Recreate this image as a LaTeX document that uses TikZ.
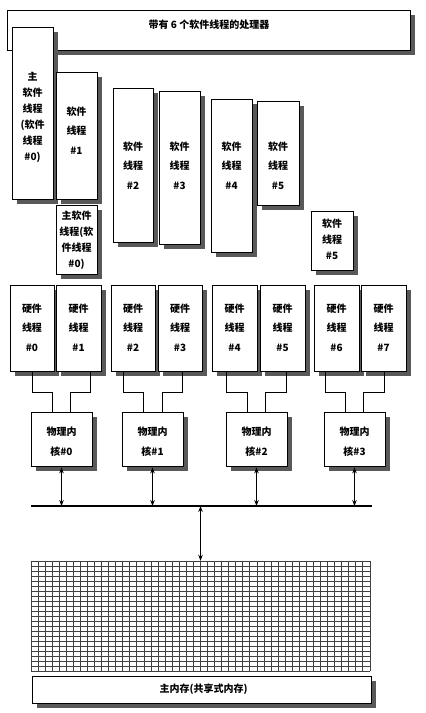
\documentclass[tikz,border=0pt]{standalone}
\usepackage{fontspec}
\setmainfont{Noto Sans CJK SC}
\usetikzlibrary{arrows.meta,calc}
\tikzset{
  box/.style={draw=black, line width=0.8pt, fill=white, inner sep=0pt},
  shadowfill/.style={fill=black!65, draw=none},
  lbl/.style={align=center, inner sep=0pt, font=\fontsize{10}{19.5}\selectfont\bfseries},
  lbls/.style={align=center, inner sep=0pt, font=\fontsize{10}{16}\selectfont\bfseries},
  ttl/.style={inner sep=0pt, font=\fontsize{10}{12}\selectfont\bfseries},
  wire/.style={line width=0.9pt},
  dbl/.style={line width=0.9pt, {Stealth[length=6pt,width=4.5pt]}-{Stealth[length=6pt,width=4.5pt]}},
  gridline/.style={line width=0.5pt, black!75},
}
% #1 name, #2 cx, #3 cy, #4 width, #5 height
\newcommand{\shadowedbox}[5]{%
  \path[shadowfill] (#2+#4/2, #3-#5/2+5) rectangle (#2+#4/2+5, #3+#5/2+5);
  \path[shadowfill] (#2-#4/2+5, #3+#5/2) rectangle (#2+#4/2+5, #3+#5/2+5);
  \node[box, minimum width=#4, minimum height=#5] (#1) at (#2,#3) {};}
\begin{document}
\begin{tikzpicture}[x=1pt,y=-1pt]
\useasboundingbox (0,0) rectangle (426,713);
% processor box
\shadowedbox{proc}{208.5}{30}{403}{40}
\node[ttl] (proct) at (209,25) {带有 6 个软件线程的处理器};
% software threads
\shadowedbox{m0}{32.5}{113}{41}{172}
\node[lbls] (m0t) at (32.5,117) {主\\软件\\线程\\(软件\\线程\\\#0)};
\shadowedbox{s1}{76.5}{135.5}{41}{127}
\node[lbl] (s1t) at (76.5,130.5) {软件\\线程\\\#1};
\shadowedbox{s2}{133}{165}{40}{154}
\node[lbl] (s2t) at (133,165.5) {软件\\线程\\\#2};
\shadowedbox{s3}{179.5}{167.5}{41}{153}
\node[lbl] (s3t) at (179.5,165.5) {软件\\线程\\\#3};
\shadowedbox{s4}{231.5}{175.5}{41}{153}
\node[lbl] (s4t) at (231.5,165.5) {软件\\线程\\\#4};
\shadowedbox{s5}{278}{153}{42}{104}
\node[lbl] (s5t) at (278,165.5) {软件\\线程\\\#5};
\shadowedbox{m0b}{76.5}{239.5}{41}{69}
\node[lbls] (m0bt) at (76.5,240) {主软件\\线程(软\\件线程\\\#0)};
\shadowedbox{s5b}{332}{240.5}{42}{59}
\node[lbls] (s5bt) at (332,239) {软件\\线程\\\#5};
% hardware threads
\foreach \n/\cx/\w in {0/32/44,1/78.5/45,2/133/44,3/180/44,4/234.5/45,5/282.5/45,6/336.5/45,7/383.5/45}{
  \shadowedbox{h\n}{\cx}{328}{\w}{86}
  \node[lbl] (h\n t) at (\cx,327.5) {硬件\\线程\\\#\n};
}
% physical cores
\foreach \n/\cx in {0/61.5,1/152.5,2/256.5,3/354.5}{
  \shadowedbox{c\n}{\cx}{439}{61}{54}
  \node[lbl, font=\fontsize{10}{20}\selectfont\bfseries] (c\n t) at (\cx,442) {物理内\\核\#\n};
}
% main memory
\shadowedbox{mem}{201.5}{689.5}{339}{27}
\node[ttl] (memt) at (203.5,689.5) {主内存(共享式内存)};
% hw -> core wires
\draw[wire] ([xshift=0pt]h0.south) -- ++(0,21) -| ([xshift=-9.5pt]c0.north);
\draw[wire] ([xshift=11.5pt]h1.south) -- ++(0,21) -| ([xshift=8.5pt]c0.north);
\draw[wire] ([xshift=-10pt]h2.south) -- ++(0,21) -| ([xshift=-9.5pt]c1.north);
\draw[wire] ([xshift=2pt]h3.south) -- ++(0,21) -| ([xshift=9.5pt]c1.north);
\draw[wire] ([xshift=-8.5pt]h4.south) -- ++(0,21) -| ([xshift=-9.5pt]c2.north);
\draw[wire] ([xshift=3.5pt]h5.south) -- ++(0,21) -| ([xshift=9pt]c2.north);
\draw[wire] ([xshift=-11.5pt]h6.south) -- ++(0,21) -| ([xshift=-9.5pt]c3.north);
\draw[wire] ([xshift=0.5pt]h7.south) -- ++(0,21) -| ([xshift=9pt]c3.north);
% bus
\coordinate (busL) at (31,506);
\coordinate (busR) at (372,506);
\draw[line width=1.1pt] (busL) -- (busR);
\foreach \n in {0,1,2,3}{
  \draw[dbl] ([yshift=-1pt]c\n.south) -- (c\n.south |- busL);
}
% memory grid
\node[inner sep=0pt, minimum width=339, minimum height=110] (grid) at (200.5,616) {};
\foreach \i in {0,...,48}{
  \draw[gridline] ($(grid.north west)+(\i*7.0625,0)$) -- ++(0,110);
}
\foreach \j in {0,...,22}{
  \draw[gridline] ($(grid.north west)+(0,\j*5)$) -- ++(339,0);
}
\draw[dbl] (grid.north |- busL) -- (grid.north);
\end{tikzpicture}
\end{document}
